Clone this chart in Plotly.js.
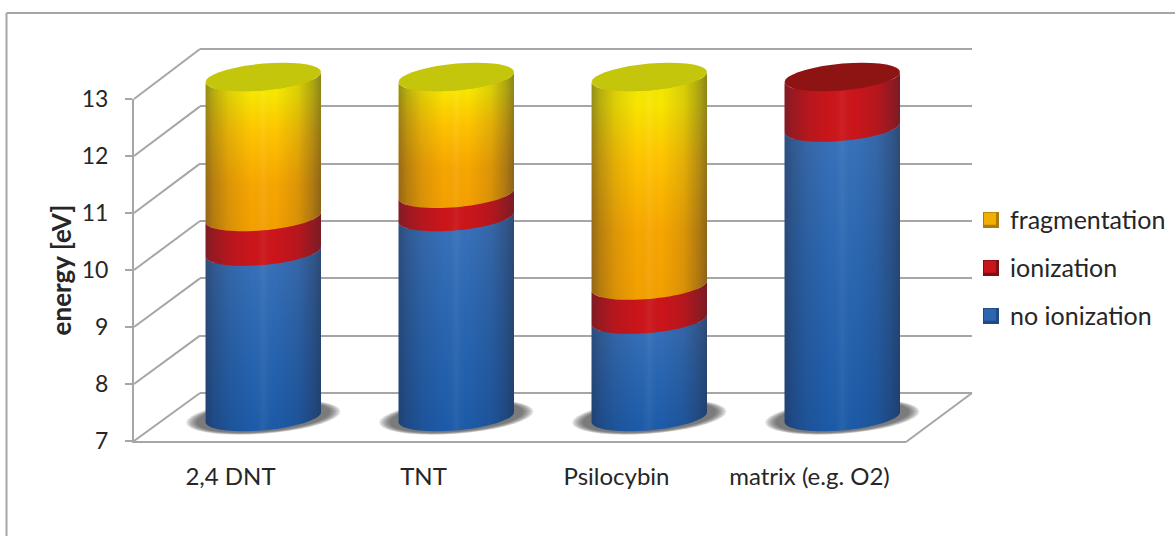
<!DOCTYPE html>
<html><head><meta charset="utf-8">
<script src="https://cdn.plot.ly/plotly-3.0.1.min.js"></script>
<style>html,body{margin:0;padding:0;background:#fff}#c{width:1175px;height:536px}</style>
</head><body><div id="c"></div>
<script>
// ---- data ----
const categories = ['2,4 DNT', 'TNT', 'Psilocybin', 'matrix (e.g. O2)'];
const noIonization = [9.92, 10.53, 8.72, 12.11];
const ionization = [0.61, 0.41, 0.60, 0.89];
const fragmentation = [2.47, 2.06, 3.68, 0];
const yTicks = [7, 8, 9, 10, 11, 12, 13];

// ---- page geometry (pixels) ----
const W = 1175, H = 536;
const px = v => v / W, py = v => 1 - v / H;
const FRONT = {x0: 134, x1: 906, y7: 441, y13: 99};
const BACK = {x0: 200, x1: 972, y7: 393, y13: 49};
const PLANE = {x0: 166.8, x1: 938.8, y7: 417, y13: 77};
const unitX = (PLANE.x1 - PLANE.x0) / 4, unitY = (PLANE.y7 - PLANE.y13) / 6;
const R = {a: 57.7, b: 13.4, tilt: 5};
const GREY = '#a6a6a6';
const PAD = 0.5; // hidden axes reach half a unit past 7..13 so nothing at the ends is cut
const frontY = v => FRONT.y7 + (v - 7) * (FRONT.y13 - FRONT.y7) / 6;
const backY = v => BACK.y7 + (v - 7) * (BACK.y13 - BACK.y7) / 6;
const planeY = v => PLANE.y7 + (v - 7) * (PLANE.y13 - PLANE.y7) / 6;

// arc of an ellipse on the cylinder plane; t in degrees, 0=right, 90=front, 180=left, 270=back
function arc(i, v, from, to, r) {
  r = r || R;
  const xs = [], ys = [], n = 36;
  for (let k = 0; k <= n; k++) {
    const t = (from + (to - from) * k / n) * Math.PI / 180;
    xs.push(i + r.a * Math.cos(t) / unitX);
    ys.push(v + (r.tilt * Math.cos(t) - r.b * Math.sin(t)) / unitY);
  }
  return {xs, ys};
}
const base = {type: 'scatter', mode: 'none', fill: 'toself', xaxis: 'x3', yaxis: 'y3',
  showlegend: false, hoverinfo: 'skip'};

const edge = a => 'rgba(35,35,50,' + a + ')';
const shade = {type: 'horizontal', colorscale: [
  [0, edge(.46)], [.07, edge(.3)], [.2, edge(.13)], [.4, edge(0)], [.5, 'rgba(255,255,255,.05)'],
  [.6, edge(0)], [.8, edge(.13)], [.93, edge(.34)], [1, edge(.5)]]};

function segment(i, v0, v1, fillProps) {
  const top = arc(i, v1, 0, 180), bot = arc(i, v0, 180, 0);
  const x = top.xs.concat(bot.xs), y = top.ys.concat(bot.ys);
  return [Object.assign({}, base, {x, y}, fillProps),
          Object.assign({}, base, {x, y, fillgradient: shade})];
}
function cap(i, v, color) {
  const e = arc(i, v, 0, 360);
  return Object.assign({}, base, {x: e.xs, y: e.ys, fillcolor: color});
}

const overlays = [];
// soft floor shadows: concentric translucent ellipses
const shadowSizes = [
  {a: 77, b: 16.8, tilt: 5.6}, {a: 75, b: 16.4, tilt: 5.6}, {a: 73, b: 16, tilt: 5.5},
  {a: 71, b: 15.6, tilt: 5.5}, {a: 69, b: 15.2, tilt: 5.4}, {a: 67, b: 14.8, tilt: 5.4}
];
categories.forEach((c, i) => {
  shadowSizes.forEach(r => {
    const e = arc(i, 7, 0, 360, r);
    overlays.push(Object.assign({}, base, {x: e.xs, y: e.ys, fillcolor: 'rgba(60,60,62,.17)'}));
  });
});
categories.forEach((c, i) => {
  const v1 = noIonization[i], v2 = v1 + ionization[i], v3 = v2 + fragmentation[i];
  overlays.push(...segment(i, 7, v1, {fillgradient: {type: 'vertical',
    colorscale: [[0, '#1c5aa8'], [.6, '#2c68b2'], [1, '#3a72ba']]}}));
  overlays.push(...segment(i, v1, v2, {fillcolor: '#cb151a'}));
  if (fragmentation[i] > 0) {
    overlays.push(...segment(i, v2, v3, {fillgradient: {type: 'vertical',
      colorscale: [[0, '#f3a000'], [.3, '#f7a600'], [.62, '#ffc400'], [.86, '#f8e600'], [1, '#eeea00']]}}));
    overlays.push(cap(i, v3, '#c4c60c'));
  } else {
    overlays.push(cap(i, v2, '#8e1414'));
  }
});

// bars carry the series and the legend; the cylinder surfaces sit on top of them
const idx = [0, 1, 2, 3];
const sum12 = noIonization.map((v, i) => v + ionization[i]);
const bar = (name, y, b, color, g) => ({type: 'bar', name, x: idx, y, base: b, width: .5,
  marker: {color}, xaxis: 'x3', yaxis: 'y3', legendgroup: g, hoverinfo: 'skip'});
const traces = [
  bar('fragmentation', fragmentation, sum12, '#f0b000', 'a'),
  bar('ionization', ionization, noIonization, '#c8141a', 'b'),
  bar('no ionization', noIonization.map(v => v - 7), 7, '#2e66ae', 'c'),
  // empty traces bringing the front and back axes into being
  {type: 'scatter', x: [], y: [], xaxis: 'x', yaxis: 'y', showlegend: false},
  {type: 'scatter', x: [], y: [], xaxis: 'x2', yaxis: 'y2', showlegend: false}
].concat(overlays);

const ln = (x0, y0, x1, y1) => ({type: 'line', xref: 'paper', yref: 'paper', layer: 'below',
  x0: px(x0), y0: py(y0), x1: px(x1), y1: py(y1), line: {color: GREY, width: 2}});
const shapes = [
  ln(6.5, 13, W + 2, 13), ln(6.5, 13, 6.5, H + 2),
  ln(FRONT.x1, FRONT.y7 + 1, BACK.x1, BACK.y7)
];
yTicks.forEach(v => shapes.push(ln(FRONT.x0, frontY(v), BACK.x0, backY(v))));
// bevel frames behind the legend swatches
[[220, '#b07a10'], [268, '#7e1014'], [316, '#1f4a86']].forEach(s => shapes.push({type: 'rect', xref: 'paper', yref: 'paper',
  x0: px(983), x1: px(999), y0: py(s[0] - 8), y1: py(s[0] + 8), fillcolor: s[1], line: {width: 0}}));

const fontFam = 'Lato, Carlito, sans-serif';
const layout = {
  width: W, height: H, margin: {l: 0, r: 0, t: 0, b: 0, pad: 0},
  paper_bgcolor: '#fff', plot_bgcolor: 'rgba(0,0,0,0)',
  barmode: 'overlay', showlegend: true, shapes,
  font: {family: fontFam, size: 23, color: '#262626'},
  xaxis: {domain: [px(FRONT.x0), px(FRONT.x1)], type: 'category', categoryorder: 'array', categoryarray: categories,
    tickmode: 'array', tickvals: categories, ticktext: categories, range: [-.5, 3.5], anchor: 'y',
    showline: true, linecolor: GREY, linewidth: 2, ticks: '', showgrid: false, zeroline: false,
    ticklabelstandoff: 13, tickfont: {size: 24}, fixedrange: true},
  yaxis: {domain: [py(FRONT.y7), py(FRONT.y13)], range: [7, 13], tickmode: 'array', tickvals: yTicks, anchor: 'x',
    showline: true, linecolor: GREY, linewidth: 2, ticks: 'outside', ticklen: 7, tickwidth: 2, tickcolor: GREY,
    showgrid: false, zeroline: false, ticklabelstandoff: 12, tickfont: {size: 23}, fixedrange: true,
    title: {text: 'energy [eV]', font: {size: 26, color: '#262626', weight: 700}, standoff: 3}},
  xaxis2: {domain: [px(BACK.x0), px(BACK.x1)], range: [0, 1], anchor: 'y2', visible: false, fixedrange: true},
  yaxis2: {domain: [py(backY(7 - PAD)), py(backY(13 + PAD))], range: [7 - PAD, 13 + PAD], tickmode: 'array', tickvals: yTicks, anchor: 'x2',
    showgrid: true, gridcolor: GREY, gridwidth: 2, zeroline: false, showline: false, showticklabels: false,
    ticks: '', fixedrange: true},
  xaxis3: {domain: [px(PLANE.x0), px(PLANE.x1)], range: [-.5, 3.5], anchor: 'y3', visible: false, fixedrange: true},
  yaxis3: {domain: [py(planeY(7 - PAD)), py(planeY(13 + PAD))], range: [7 - PAD, 13 + PAD], anchor: 'x3', visible: false, fixedrange: true},
  legend: {x: px(970), xanchor: 'left', y: py(196), yanchor: 'top', traceorder: 'grouped',
    tracegroupgap: 12.5, bgcolor: 'rgba(0,0,0,0)', font: {size: 25, color: '#262626'}, itemclick: false, itemdoubleclick: false}
};
Plotly.newPlot('c', traces, layout, {displayModeBar: false, responsive: false});
</script></body></html>
